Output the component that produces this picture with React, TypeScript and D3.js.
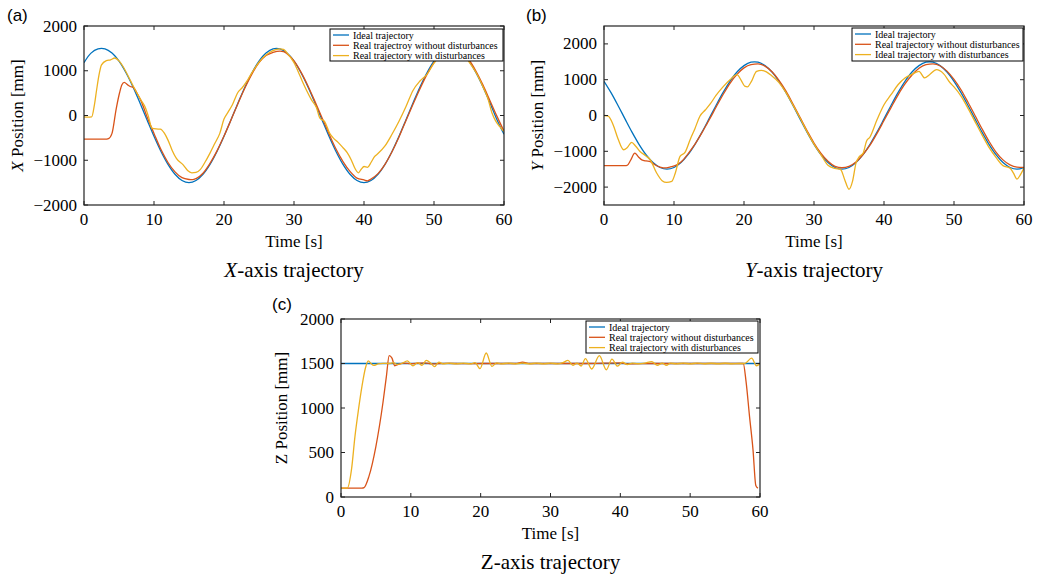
import React from "react";
import * as d3 from "d3";

type Pt = [number, number];

// MATLAB default line colours
const colors = ["#0072BD", "#D95319", "#EDB120"];

const timeTicks = [0, 10, 20, 30, 40, 50, 60];
const posTicks = [-2000, -1000, 0, 1000, 2000];
const zTicks = [0, 500, 1000, 1500, 2000];

// one sample per second, 0..60 s
const secs = d3.range(0, 61);

// ---- (a) X axis ----
const xIdeal = [
  1180, 1394, 1488, 1488, 1394, 1214, 956, 639, 281, -94,
  -464, -804, -1093, -1314, -1453, -1500, -1453, -1314, -1093, -804,
  -464, -94, 281, 639, 956, 1214, 1394, 1488, 1488, 1394,
  1214, 956, 639, 281, -94, -464, -804, -1093, -1314, -1453,
  -1500, -1453, -1314, -1093, -804, -464, -94, 281, 639, 956,
  1214, 1394, 1488, 1488, 1394, 1214, 956, 639, 281, -94,
  -420,
];
const xReal: Pt[] = [
  [0, -530], [1, -530], [2, -530], [3, -528], [3.5, -515], [4, -400], [4.6, 150], [5.1, 520],
  [5.4, 680], [5.75, 742], [6.2, 690], [6.6, 648], [7.05, 630], [7.5, 520], [8.2, 310], [9, -30],
  [10, -400], [11, -760], [12, -1050], [13, -1260], [14, -1390], [15, -1430], [15.5, -1435],
  [16, -1410], [17, -1290], [18, -1070], [19, -790], [20, -460], [21, -100], [22, 270], [23, 620],
  [24, 930], [25, 1180], [26, 1340], [27, 1410], [28, 1440], [28.5, 1430], [29, 1380], [30, 1220],
  [31, 970], [32, 660], [33, 310], [34, -50], [35, -410], [36, -750], [37, -1030], [38, -1250],
  [39, -1400], [40, -1440], [40.5, -1460], [41, -1420], [42, -1300], [43, -1090], [44, -810],
  [45, -480], [46, -110], [47, 250], [48, 600], [49, 920], [50, 1180], [51, 1360], [52, 1450],
  [53, 1470], [54, 1400], [55, 1240], [56, 990], [57, 680], [58, 330], [59, -20], [60, -350],
];
const xDist: Pt[] = [
  [0, -30], [0.5, -35], [1.1, -30], [1.5, 250], [1.8, 570], [2.2, 950], [2.5, 1130], [3.2, 1225],
  [3.8, 1245], [4.4, 1285], [5, 1220], [5.6, 1090], [6.6, 790], [7.5, 520], [8.2, 330], [8.7, 200],
  [9.2, -20], [9.7, -280], [10.3, -300], [10.9, -305], [11.5, -400], [12, -550], [12.6, -780],
  [13.2, -960], [14.2, -1110], [14.8, -1230], [15.4, -1280], [16, -1270], [16.6, -1210],
  [17.3, -1040], [18, -840], [18.7, -620], [19.4, -400], [20, -80], [20.6, 80], [21.2, 240],
  [22, 520], [22.6, 620], [23.2, 750], [24, 960], [25, 1190], [26, 1350], [27, 1450], [28, 1490],
  [28.5, 1480], [29, 1400], [30, 1180], [30.6, 980], [31.2, 760], [31.8, 560], [32.5, 350],
  [33.2, 180], [33.7, -60], [34.4, -140], [35.1, -400], [35.6, -500], [36.3, -600], [37, -720],
  [37.6, -830], [38.2, -1000], [38.7, -1180], [39.2, -1280], [39.6, -1200], [40, -1140],
  [40.5, -1160], [41, -1050], [41.5, -920], [42, -850], [43, -680], [44, -420], [45, -130],
  [46, 200], [47, 560], [48, 770], [49, 920], [50, 1170], [51, 1350], [52, 1440], [53, 1450],
  [54, 1390], [55, 1200], [56, 960], [57, 640], [57.7, 380], [58.3, 50], [58.8, -120],
  [59.4, -250], [60, -360],
];

// ---- (b) Y axis ----
const yIdeal = [
  956, 639, 281, -94, -464, -804, -1093, -1314, -1453, -1500,
  -1453, -1314, -1093, -804, -464, -94, 281, 639, 956, 1214,
  1394, 1488, 1488, 1394, 1214, 956, 639, 281, -94, -464,
  -804, -1093, -1314, -1453, -1500, -1453, -1314, -1093, -804, -464,
  -94, 281, 639, 956, 1214, 1394, 1488, 1488, 1394, 1214,
  956, 639, 281, -94, -464, -804, -1093, -1314, -1453, -1500,
  -1453,
];
const yReal: Pt[] = [
  [0, -1400], [1, -1400], [2, -1400], [3, -1400], [3.3, -1395], [3.8, -1250], [4.4, -1050],
  [4.9, -1150], [5.4, -1240], [6, -1270], [6.6, -1285], [7.2, -1370], [8, -1440], [8.9, -1465],
  [9.6, -1430], [10.4, -1380], [11, -1300], [12, -1070], [13, -800], [14, -480], [14.8, -200],
  [15.2, -60], [16, 230], [17, 580], [18, 900], [19, 1150], [20, 1330], [21, 1420], [22, 1440],
  [23, 1380], [24, 1220], [25, 980], [26, 680], [27, 320], [28, -50], [29, -420], [30, -770],
  [31, -1060], [32, -1280], [33, -1420], [34, -1460], [35, -1420], [36, -1300], [37, -1090],
  [38, -830], [39, -500], [40, -140], [41, 220], [42, 570], [43, 880], [44, 1130], [45, 1320],
  [46, 1420], [47, 1440], [48, 1390], [49, 1240], [50, 1010], [51, 720], [52, 370], [53, 0],
  [54, -370], [55, -720], [56, -1020], [57, -1240], [58, -1380], [59, -1440], [60, -1450],
];
const yDist: Pt[] = [
  [0, 0], [0.6, -20], [1.3, -257], [2, -650], [2.8, -957], [3.3, -900], [3.95, -752], [4.5, -850],
  [5.14, -1004], [6, -1130], [6.6, -1236], [7.5, -1600], [8.3, -1820], [8.95, -1870],
  [9.67, -1843], [10.2, -1600], [10.86, -1144], [11.57, -1032], [12.3, -677], [13, -360],
  [13.7, -20], [14.5, 160], [15.2, 330], [16, 560], [17, 800], [18, 1000], [19, 1140],
  [19.6, 980], [20.1, 820], [20.5, 800], [21, 930], [21.8, 1230], [22.5, 1260], [23.2, 1220],
  [24, 1100], [25, 920], [26, 640], [27, 290], [28, -70], [29, -450], [30, -800], [31, -1100],
  [32, -1390], [33, -1480], [33.8, -1510], [34.4, -1800], [35, -2060], [35.5, -1840],
  [36, -1330], [36.5, -1140], [37, -1060], [37.5, -720], [38, -600], [39, -120], [40, 300],
  [41, 580], [42, 860], [43, 1050], [44, 1150], [45, 1235], [45.8, 1050], [46.5, 1140],
  [47.5, 1280], [48.5, 1170], [49.5, 900], [50, 800], [51, 540], [52, 200], [53, -170],
  [54, -540], [55, -890], [56, -1170], [57, -1400], [58, -1470], [58.5, -1610], [59, -1775],
  [59.5, -1650], [60, -1470],
];

// ---- (c) Z axis ----
const zIdeal: Pt[] = [[0, 1500], [60, 1500]];
const zReal: Pt[] = [
  [0, 100], [1, 100], [2, 100], [3, 100], [3.3, 105], [4, 232], [5, 570], [6, 1056], [6.5, 1356],
  [6.9, 1588], [7.3, 1560], [7.7, 1475], [8.2, 1490], [9, 1505], [10, 1498], [11, 1503],
  [12, 1508], [13, 1495], [15, 1502], [18, 1498], [20, 1500], [25, 1500], [26, 1515], [27, 1500],
  [30, 1500], [35, 1500], [40, 1508], [41, 1495], [45, 1500], [50, 1500], [55, 1500],
  [57.6, 1500], [58, 1300], [58.5, 906], [59, 530], [59.4, 130], [59.7, 100],
];
const zDist: Pt[] = [
  [0, 100], [0.9, 100], [1.5, 307], [2, 682], [2.5, 981], [3, 1243], [3.5, 1449], [3.9, 1530],
  [4.3, 1500], [4.7, 1478], [5.3, 1495], [6, 1502], [7, 1500], [7.5, 1510], [8, 1490],
  [8.7, 1500], [9.5, 1530], [10.3, 1475], [11, 1510], [11.6, 1480], [12.2, 1535], [12.9, 1500],
  [13.4, 1465], [14, 1515], [14.7, 1495], [15.5, 1505], [16.5, 1495], [17.5, 1505],
  [18.5, 1495], [19.2, 1510], [19.9, 1442], [20.8, 1618], [21.6, 1468], [22.3, 1508], [23, 1495],
  [24, 1505], [25, 1495], [26, 1505], [27, 1495], [28, 1505], [29, 1495], [30, 1505], [31, 1495],
  [31.8, 1510], [32.5, 1535], [33.2, 1480], [33.8, 1505], [34.4, 1472], [35, 1555],
  [35.9, 1438], [37, 1588], [38, 1430], [38.8, 1550], [39.6, 1470], [40.3, 1515], [41, 1488],
  [41.7, 1505], [42.5, 1497], [43.5, 1505], [44.5, 1522], [45.3, 1478], [46, 1505],
  [46.6, 1480], [47.2, 1505], [48, 1495], [49, 1505], [50, 1495], [51, 1505], [52, 1497],
  [53, 1503], [54, 1497], [55, 1503], [56, 1497], [57, 1500], [57.8, 1500], [58.8, 1560],
  [59.5, 1475], [60, 1500],
];

const legendA = ["Ideal trajectory", "Real trajectroy without disturbances", "Real trajectory with disturbances"];
const legendB = ["Ideal trajectory", "Real trajectory without disturbances", "Ideal trajectory with disturbances"];
const legendC = ["Ideal trajectory", "Real trajectory without disturbances", "Real trajectory with disturbances"];

const bySecond = (vals: number[]): Pt[] => vals.map((v, i) => [secs[i], v]);

const SERIF = "'Liberation Serif', 'Times New Roman', serif";
const SANS = "'Liberation Sans', Arial, sans-serif";
const fmt = d3.format("d");

type PanelProps = {
  id: string;
  tag: string;
  tagX: number;
  tagY: number;
  box: { left: number; top: number; right: number; bottom: number };
  yDomain: [number, number];
  yTicks: number[];
  letter: string;
  italic: boolean;
  titleOff: number;
  series: Pt[][];
  names: string[];
  legend: { x: number; y: number; w: number; h: number };
};

function Panel(p: PanelProps) {
  const { left, top, right, bottom } = p.box;
  const xs = d3.scaleLinear().domain([0, 60]).range([left, right]);
  const ys = d3.scaleLinear().domain(p.yDomain).range([bottom, top]);
  // smooth reference curve, monotone for the measured ones (flat starts)
  const smooth = d3
    .line<Pt>()
    .x((d) => xs(d[0]))
    .y((d) => ys(d[1]))
    .curve(d3.curveCatmullRom.alpha(0.5));
  const line = d3
    .line<Pt>()
    .x((d) => xs(d[0]))
    .y((d) => ys(d[1]))
    .curve(d3.curveMonotoneX);
  const tl = 4;
  const midX = (left + right) / 2;
  const midY = (top + bottom) / 2;
  const clipId = "clip-" + p.id;
  const L = p.legend;
  return (
    <g>
      <defs>
        <clipPath id={clipId}>
          <rect x={left} y={top} width={right - left} height={bottom - top} />
        </clipPath>
      </defs>
      <text x={p.tagX} y={p.tagY} fontFamily={SANS} fontSize={17}>
        {p.tag}
      </text>
      <g clipPath={`url(#${clipId})`}>
        {p.series.map((s, i) => (
          <path
            key={i}
            d={(i === 0 ? smooth(s) : line(s)) || ""}
            fill="none"
            stroke={colors[i]}
            strokeWidth={1.3}
          />
        ))}
      </g>
      {/* ticks, inward on all four sides */}
      <g stroke="#222" strokeWidth={1}>
        {timeTicks.map((t) => (
          <g key={"xt" + t}>
            <line x1={xs(t)} x2={xs(t)} y1={bottom} y2={bottom - tl} />
            <line x1={xs(t)} x2={xs(t)} y1={top} y2={top + tl} />
          </g>
        ))}
        {p.yTicks.map((v) => (
          <g key={"yt" + v}>
            <line x1={left} x2={left + tl} y1={ys(v)} y2={ys(v)} />
            <line x1={right} x2={right - tl} y1={ys(v)} y2={ys(v)} />
          </g>
        ))}
      </g>
      <rect x={left} y={top} width={right - left} height={bottom - top} fill="none" stroke="#222" strokeWidth={1.2} />
      <g fontFamily={SERIF} fontSize={17} fill="#000">
        {timeTicks.map((t) => (
          <text key={"xl" + t} x={xs(t)} y={bottom + 20} textAnchor="middle">
            {fmt(t)}
          </text>
        ))}
        {p.yTicks.map((v) => (
          <text key={"yl" + v} x={left - 7} y={ys(v) + 5.5} textAnchor="end">
            {fmt(v)}
          </text>
        ))}
        <text x={midX} y={bottom + 42} textAnchor="middle">
          Time [s]
        </text>
        <text transform={`translate(${left - p.titleOff},${midY}) rotate(-90)`} textAnchor="middle">
          <tspan fontStyle={p.italic ? "italic" : "normal"}>{p.letter}</tspan> Position [mm]
        </text>
        <text x={midX} y={bottom + 72} textAnchor="middle" fontSize={21}>
          <tspan fontStyle={p.italic ? "italic" : "normal"}>{p.letter}</tspan>-axis trajectory
        </text>
      </g>
      {/* legend */}
      <g>
        <rect x={L.x} y={L.y} width={L.w} height={L.h} fill="#fff" stroke="#000" strokeWidth={1} />
        {p.names.map((n, i) => {
          const ry = L.y + 6 + i * 10.3;
          return (
            <g key={n + i}>
              <line x1={L.x + 3} x2={L.x + 19} y1={ry} y2={ry} stroke={colors[i]} strokeWidth={1.3} />
              <text x={L.x + 23} y={ry + 3.5} fontFamily={SERIF} fontSize={10}>
                {n}
              </text>
            </g>
          );
        })}
      </g>
    </g>
  );
}

export default function App() {
  return (
    <svg
      width={1038}
      height={580}
      style={{ position: "absolute", left: 0, top: 0, background: "#fff" }}
    >
      <Panel
        id="a"
        tag="(a)"
        tagX={7}
        tagY={21}
        box={{ left: 84, top: 26, right: 504, bottom: 205 }}
        yDomain={[-2000, 2000]}
        yTicks={posTicks}
        letter="X"
        italic={true}
        titleOff={61}
        series={[bySecond(xIdeal), xReal, xDist]}
        names={legendA}
        legend={{ x: 330, y: 29, w: 173, h: 32 }}
      />
      <Panel
        id="b"
        tag="(b)"
        tagX={526}
        tagY={21}
        box={{ left: 604, top: 26, right: 1024, bottom: 205 }}
        yDomain={[-2500, 2500]}
        yTicks={posTicks}
        letter="Y"
        italic={true}
        titleOff={61}
        series={[bySecond(yIdeal), yReal, yDist]}
        names={legendB}
        legend={{ x: 852, y: 28, w: 171, h: 33 }}
      />
      <Panel
        id="c"
        tag="(c)"
        tagX={272}
        tagY={310}
        box={{ left: 341, top: 319, right: 760, bottom: 497 }}
        yDomain={[0, 2000]}
        yTicks={zTicks}
        letter="Z"
        italic={false}
        titleOff={54}
        series={[zIdeal, zReal, zDist]}
        names={legendC}
        legend={{ x: 586, y: 321, w: 172, h: 32 }}
      />
    </svg>
  );
}
